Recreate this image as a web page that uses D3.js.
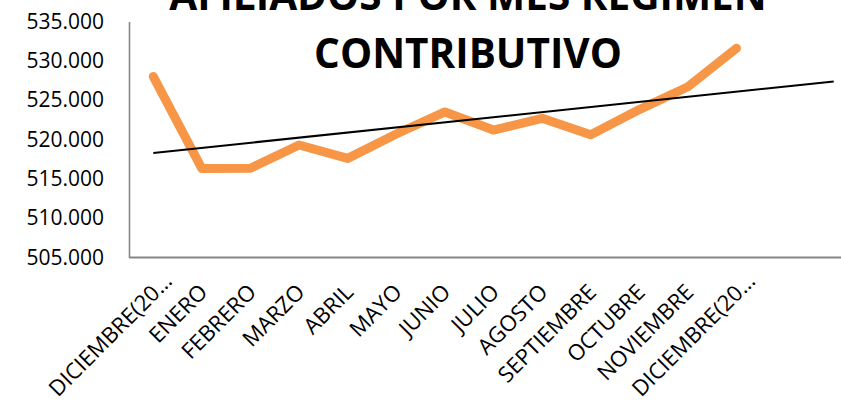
<!DOCTYPE html>
<html>
<head>
<meta charset="utf-8">
<script src="https://cdn.jsdelivr.net/npm/d3@7"></script>
<style>
  body { margin: 0; background: #fff; }
  svg { display: block; }
</style>
</head>
<body>
<div class="chartContainer"></div>
<script>
// categories (the labels are cut off the same way as the original)
var months = ['DICIEMBRE(20\u2026', 'ENERO', 'FEBRERO', 'MARZO', 'ABRIL', 'MAYO', 'JUNIO',
              'JULIO', 'AGOSTO', 'SEPTIEMBRE', 'OCTUBRE', 'NOVIEMBRE', 'DICIEMBRE(20\u2026']
// afiliados
var afiliados = [528000, 516300, 516350, 519300, 517600, 520700, 523500,
                 521200, 522700, 520600, 523800, 526700, 531600]
var yTicks = [505000, 510000, 515000, 520000, 525000, 530000, 535000]
var titleLines = ['AFILIADOS POR MES REGIMEN', 'CONTRIBUTIVO']
var forecast = 2 // trendline goes 2 periods forward

var orange = '#F79646'
let margin = {top: 21.5, right: 0, bottom: 145.5, left: 129},
width = 841,
height = 403

let nSlots = months.length + forecast

let x = d3.scaleLinear()
    .domain([-0.5, nSlots - 0.5])
    .range([margin.left, margin.left + nSlots * 48.6])

let y = d3.scaleLinear()
    .domain([505000, 535000])
    .range([height - margin.bottom, margin.top])

var es = d3.formatLocale({decimal: ',', thousands: '.', grouping: [3], currency: ['$', '']})

var svg = d3.select('.chartContainer').append('svg')
    .attr('width', width)
    .attr('height', height)
    .attr('viewBox', [0, 0, width, height])

// y axis labels, no ticks
svg.append('g')
    .attr('transform', 'translate(' + margin.left + ',0)')
    .call(d3.axisLeft(y).tickValues(yTicks).tickFormat(es.format(',.0f')).tickSize(0).tickPadding(25))
    .call(g => g.select('.domain').attr('stroke', '#868686').attr('stroke-width', 1.6))
    .call(g => g.selectAll('text')
        .attr('fill', '#000')
        .style('font-family', 'Open Sans')
        .style('font-size', '21px'))

// x axis line
svg.append('line')
    .attr('x1', margin.left)
    .attr('x2', width)
    .attr('y1', y(505000))
    .attr('y2', y(505000))
    .attr('stroke', '#868686')
    .attr('stroke-width', 2)

// rotated month labels, the truncated ones sit a bit further up-right
svg.append('g')
    .selectAll('text')
    .data(months)
    .enter()
    .append('text')
    .attr('transform', function(d, i) {
        var cut = d.endsWith('\u2026')
        return 'translate(' + (x(i) + (cut ? 20 : 7)) + ',' + (y(505000) + (cut ? 25 : 36)) + ') rotate(-45)'
    })
    .attr('text-anchor', 'end')
    .style('font-family', 'Open Sans')
    .style('font-size', '22px')
    .attr('fill', '#000')
    .text(d => d)

// data line
let line = d3.line()
    .x((d, i) => x(i))
    .y(d => y(d))

svg.append('path')
    .datum(afiliados)
    .attr('d', line)
    .attr('fill', 'none')
    .attr('stroke', orange)
    .attr('stroke-width', 9)
    .attr('stroke-linejoin', 'round')
    .attr('stroke-linecap', 'round')

// linear trendline (least squares)
var xs = afiliados.map((d, i) => i)
var mx = d3.mean(xs), my = d3.mean(afiliados)
var slope = d3.sum(xs, i => (i - mx) * (afiliados[i] - my)) / d3.sum(xs, i => (i - mx) * (i - mx))
var icpt = my - slope * mx
var trendEnds = [0, months.length - 1 + forecast]

svg.append('path')
    .datum(trendEnds)
    .attr('d', d3.line().x(d => x(d)).y(d => y(icpt + slope * d)))
    .attr('stroke', '#000')
    .attr('stroke-width', 2)
    .attr('fill', 'none')

// title (first line is cut by the top edge, as in the original)
svg.append('g')
    .selectAll('text')
    .data(titleLines)
    .enter()
    .append('text')
    .attr('x', 468)
    .attr('y', (d, i) => 10 + i * 58)
    .attr('text-anchor', 'middle')
    .style('font-family', 'Open Sans')
    .style('font-weight', 'bold')
    .style('font-size', '40.5px')
    .attr('fill', '#000')
    .text(d => d)
</script>
</body>
</html>
